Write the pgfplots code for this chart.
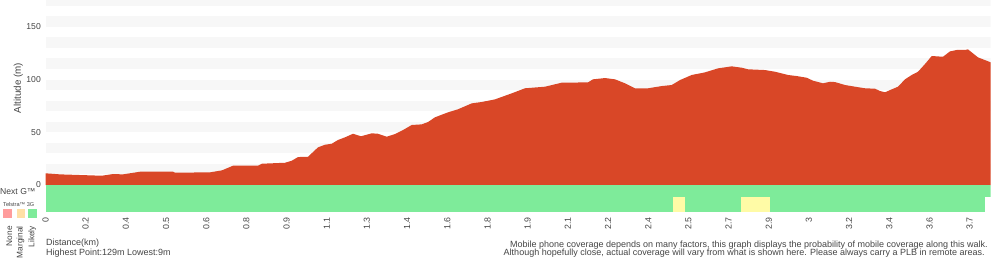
\documentclass[border=0pt]{standalone}
\usepackage{pgfplots}
\pgfplotsset{compat=1.18}
\usepackage{fontspec}
\setmainfont{Liberation Sans}
\definecolor{elev}{HTML}{D94727}
\definecolor{likely}{HTML}{7EEB9A}
\definecolor{marg}{HTML}{FFFBA6}
\definecolor{band}{HTML}{F7F7F7}
\definecolor{txt}{HTML}{444444}
\definecolor{lgnone}{HTML}{FF9C9C}
\definecolor{lgmarg}{HTML}{FFE0A6}
\definecolor{lglik}{HTML}{7EEB9A}
\newcommand{\band}[2]{\addplot[fill=band,draw=none] coordinates {(0,#1) (945.2,#1) (945.2,#2) (0,#2)} -- cycle;}
\begin{document}
\begin{tikzpicture}[x=1pt,y=1pt]
\useasboundingbox (0,0) rectangle (1000,260);
\begin{axis}[
  at={(45.5pt,48.3pt)}, anchor=south west,
  scale only axis, width=945.2pt, height=211.7pt,
  xmin=0, xmax=945.2, ymin=-25.3, ymax=175.4,
  axis line style={draw=none},
  major tick length=0pt,
  xtick={0,40.18,80.36,120.54,160.72,200.9,241.08,281.26,321.44,361.62,401.8,441.98,482.16,522.34,562.52,602.7,642.88,683.06,723.24,763.42,803.6,843.78,883.96,924.14},
  xticklabels={0,0.2,0.4,0.5,0.6,0.8,0.9,1.1,1.3,1.4,1.6,1.8,1.9,2.1,2.2,2.4,2.5,2.7,2.9,3,3.2,3.4,3.6,3.7},
  ytick={0,50,100,150},
  yticklabels={0,50,100,150},
  xticklabel style={font=\fontsize{8.8}{10}\selectfont, text=txt, yshift=-5.6pt, rotate=90, anchor=east, inner sep=0pt},
  yticklabel style={font=\fontsize{8.6}{10}\selectfont, text=txt, inner sep=0pt, xshift=-4.5pt, anchor=east},
  clip=true,
]
\band{10}{20}\band{30}{40}\band{50}{60}\band{70}{80}\band{90}{100}
\band{110}{120}\band{130}{140}\band{150}{160}\band{170}{180}
% elevation profile
\addplot[fill=elev,draw=none] coordinates {
(0,0) (0,11.1) (14.5,10.1) (56.2,8.8) (67.5,10.4) (77.5,10.1) (94.5,12.6) (127.5,12.6) (129.5,11.7)
(164.5,12.0) (176.5,13.9) (187.5,18.3) (212.5,18.3) (216.5,20.2) (239.5,21.1) (246.2,23.0)
(252.5,26.5) (262.5,26.8) (272.5,35.7) (279.5,38.2) (286.2,39.1) (292.5,42.7) (299.5,45.2)
(307.5,48.6) (315.5,46.2) (326.2,49.0) (332.5,48.6) (341.2,45.8) (349.5,48.3) (357.5,52.1)
(366.2,56.9) (376.2,57.5) (382.5,59.7) (389.5,64.2) (402.5,68.9) (412.5,71.8) (426.2,77.4)
(436.2,78.7) (449.5,81.2) (466.2,86.9) (479.5,91.7) (499.5,93.2) (516.2,97.0) (542.5,97.3)
(547.5,100.2) (559.5,101.4) (569.5,100.2) (579.5,96.4) (589.5,91.7) (602.5,91.7) (616.2,93.8)
(626.2,94.8) (634.5,99.5) (646.2,104.3) (659.5,106.8) (672.5,110.6) (686.2,112.5) (696.2,111.2)
(702.5,109.7) (719.5,109.0) (729.5,107.4) (742.5,104.3) (751.2,103.3) (761.2,101.7) (767.5,98.9)
(777.5,96.4) (784.5,97.9) (789.5,97.6) (799.5,94.8) (809.5,93.2) (819.5,91.7) (829.5,91.3)
(834.5,89.1) (839.5,87.9) (844.5,90.0) (852.5,93.2) (859.5,100.2) (866.2,104.3) (872.5,107.4)
(879.5,114.7) (886.2,122.3) (897.5,121.6) (904.5,126.7) (911.2,128.0) (919.5,128.0) (922.5,128.6)
(932.5,121.0) (945.2,116.3) (945.2,0)
} -- cycle;
% Next G coverage row
\addplot[fill=likely,draw=none] coordinates {(0,-11.4) (945.2,-11.4) (945.2,0) (0,0)} -- cycle;
% Telstra 3G coverage row
\addplot[fill=likely,draw=none] coordinates {(0,-25.3) (939.5,-25.3) (939.5,-11.4) (0,-11.4)} -- cycle;
\addplot[fill=marg,draw=none] coordinates {(627.5,-25.3) (639.5,-25.3) (639.5,-11.4) (627.5,-11.4)} -- cycle;
\addplot[fill=marg,draw=none] coordinates {(695.5,-25.3) (724.5,-25.3) (724.5,-11.4) (695.5,-11.4)} -- cycle;
\end{axis}
% labels
\node[rotate=90, text=txt, font=\fontsize{9.8}{11}\selectfont, inner sep=0pt] at (18.3,172) {Altitude (m)};
\node[anchor=west, text=txt, font=\fontsize{8.6}{10}\selectfont, inner sep=0pt] at (0,68) {Next G™};
\node[anchor=west, text=txt, font=\fontsize{5.6}{6}\selectfont, inner sep=0pt] at (3,55.3) {Telstra™ 3G};
\fill[lgnone] (3.3,41.7) rectangle (12.3,50.7);
\fill[lgmarg] (16.7,41.7) rectangle (25.3,50.7);
\fill[lglik] (28.3,41.7) rectangle (36.7,50.7);
\node[rotate=90, anchor=east, text=txt, font=\fontsize{8.3}{9}\selectfont, inner sep=0pt] at (9.2,34) {None};
\node[rotate=90, anchor=east, text=txt, font=\fontsize{8.3}{9}\selectfont, inner sep=0pt] at (20.5,34) {Marginal};
\node[rotate=90, anchor=east, text=txt, font=\fontsize{8.3}{9}\selectfont, inner sep=0pt] at (32.2,34) {Likely};
\node[anchor=base west, text=txt, font=\fontsize{9}{10}\selectfont, inner sep=0pt] at (46,14.3) {Distance(km)};
\node[anchor=base west, text=txt, font=\fontsize{9}{10}\selectfont, inner sep=0pt] at (46,5) {Highest Point:129m Lowest:9m};
\node[anchor=base east, text=txt, font=\fontsize{9}{10}\selectfont, inner sep=0pt] at (988,13) {Mobile phone coverage depends on many factors, this graph displays the probability of mobile coverage along this walk.};
\node[anchor=base east, text=txt, font=\fontsize{9}{10}\selectfont, inner sep=0pt] at (985,4.5) {Although hopefully close, actual coverage will vary from what is shown here. Please always carry a PLB in remote areas.};
\end{tikzpicture}
\end{document}
